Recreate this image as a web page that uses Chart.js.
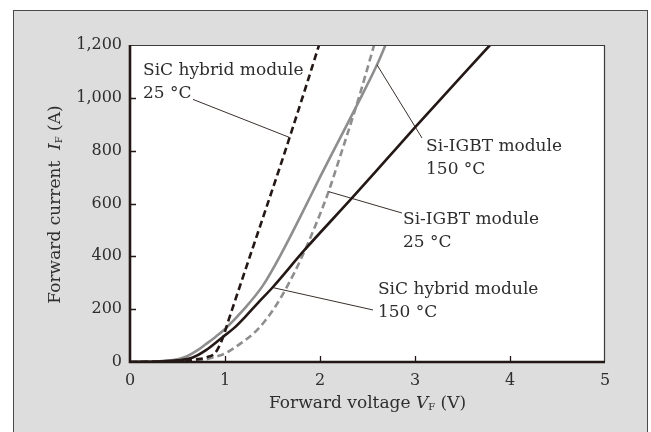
<!DOCTYPE html>
<html>
<head>
<meta charset="utf-8">
<script src="https://cdn.jsdelivr.net/npm/chart.js@4.4.1/dist/chart.umd.min.js"></script>
<style>
  html, body { margin: 0; padding: 0; background: #fff; }
  #wrap { position: relative; width: 651px; height: 432px; overflow: hidden; }
  #panel { position: absolute; left: 13px; top: 10px; width: 633px; height: 440px;
           background: #dcdddc; border: 1px solid #4a4a4a; }
  canvas { position: absolute; left: 0; top: 0; }
</style>
</head>
<body>
<div id="wrap">
  <div id="panel"></div>
  <canvas id="chart" width="651" height="432"></canvas>
</div>
<script>
// tick values
const voltTicks = [0, 1, 2, 3, 4, 5];
const currentTicks = [0, 200, 400, 600, 800, 1000, 1200];

// SiC hybrid module, 25 °C (black dashed)
const sic25V = [0, 0.3, 0.5, 0.7, 0.8, 0.9, 0.97, 1.04, 1.18, 1.4, 1.58, 1.68, 1.85, 1.99];
const sic25I = [0, 1, 4, 10, 17, 36, 85, 161, 312, 547, 740, 850, 1040, 1200];

// SiC hybrid module, 150 °C (black solid)
const sic150V = [0, 0.3, 0.5, 0.66, 0.8, 0.97, 1.1, 1.21, 1.35, 1.5, 1.84, 2.34, 2.7, 3.0, 3.79];
const sic150I = [0, 2, 6, 17, 45, 93, 130, 170, 225, 282, 425, 622, 767, 888, 1200];

// Si-IGBT module, 25 °C (gray dashed)
const igbt25V = [0, 0.55, 0.7, 0.8, 0.9, 1.0, 1.14, 1.3, 1.42, 1.53, 1.66, 1.8, 1.95, 2.09, 2.2, 2.4, 2.57];
const igbt25I = [0, 0, 3, 10, 20, 32, 64, 108, 155, 210, 290, 390, 515, 645, 765, 990, 1200];

// Si-IGBT module, 150 °C (gray solid)
const igbt150V = [0, 0.3, 0.5, 0.6, 0.7, 0.8, 0.9, 1.0, 1.2, 1.4, 1.6, 1.8, 2.0, 2.2, 2.4, 2.6, 2.69];
const igbt150I = [0, 3, 10, 22, 42, 68, 95, 125, 200, 290, 415, 555, 700, 840, 980, 1125, 1200];

const serif = '"DejaVu Serif", "Liberation Serif", serif';
const inkBlack = '#231815';
const inkGray = '#8e8e8e';
const textColor = '#2e2e2e';

// callout labels: text anchor, leader start, leader end (all in V / A)
const callouts = [
  { lines: ['SiC hybrid module', '25 °C'],   textAt: [0.137, 1105], from: [0.663, 994], to: [1.68, 850] },
  { lines: ['Si-IGBT module', '150 °C'],     textAt: [3.116, 814],  from: [3.074, 848], to: [2.60, 1125] },
  { lines: ['Si-IGBT module', '25 °C'],      textAt: [2.874, 538],  from: [2.863, 564], to: [2.09, 645] },
  { lines: ['SiC hybrid module', '150 °C'],  textAt: [2.61, 276],   from: [2.558, 197], to: [1.50, 282] }
];

const pairs = (xs, ys) => xs.map((v, i) => ({ x: v, y: ys[i] }));

function drawRich(ctx, parts, cx, cy) {
  let total = 0;
  parts.forEach(p => { ctx.font = p.font; total += ctx.measureText(p.t).width; });
  let x = cx - total / 2;
  parts.forEach(p => {
    ctx.font = p.font;
    ctx.fillText(p.t, x, cy + (p.dy || 0));
    x += ctx.measureText(p.t).width;
  });
}

const framePlugin = {
  id: 'frame',
  beforeDraw(chart) {
    const { ctx, chartArea: a } = chart;
    ctx.save();
    ctx.fillStyle = '#fff';
    ctx.fillRect(a.left, a.top, a.right - a.left, a.bottom - a.top);
    ctx.restore();
  },
  afterDraw(chart) {
    const { ctx, chartArea: a, scales: { x, y } } = chart;
    ctx.save();

    // thin top/right frame
    ctx.strokeStyle = '#3a3a3a';
    ctx.lineWidth = 1.2;
    ctx.beginPath();
    ctx.moveTo(a.left, a.top + 0.5);
    ctx.lineTo(a.right - 0.5, a.top + 0.5);
    ctx.lineTo(a.right - 0.5, a.bottom);
    ctx.stroke();

    // heavy axes
    ctx.strokeStyle = inkBlack;
    ctx.lineWidth = 2.6;
    ctx.beginPath();
    ctx.moveTo(a.left, a.top);
    ctx.lineTo(a.left, a.bottom);
    ctx.lineTo(a.right, a.bottom);
    ctx.stroke();

    // inward ticks
    ctx.lineWidth = 1.3;
    ctx.beginPath();
    voltTicks.slice(1, -1).forEach(v => {
      const px = Math.round(x.getPixelForValue(v)) + 0.5;
      ctx.moveTo(px, a.bottom);
      ctx.lineTo(px, a.bottom - 6);
    });
    currentTicks.slice(1, -1).forEach(v => {
      const py = Math.round(y.getPixelForValue(v)) + 0.5;
      ctx.moveTo(a.left, py);
      ctx.lineTo(a.left + 6, py);
    });
    ctx.stroke();

    // callouts
    ctx.fillStyle = textColor;
    ctx.textBaseline = 'middle';
    ctx.textAlign = 'left';
    ctx.font = '17px ' + serif;
    callouts.forEach(c => {
      const tx = x.getPixelForValue(c.textAt[0]);
      const ty = y.getPixelForValue(c.textAt[1]);
      c.lines.forEach((s, i) => ctx.fillText(s, tx, ty + i * 23));
      ctx.strokeStyle = inkBlack;
      ctx.lineWidth = 0.9;
      ctx.beginPath();
      ctx.moveTo(x.getPixelForValue(c.from[0]), y.getPixelForValue(c.from[1]));
      ctx.lineTo(x.getPixelForValue(c.to[0]), y.getPixelForValue(c.to[1]));
      ctx.stroke();
    });

    // axis titles
    const reg = '17px ' + serif;
    const ital = 'italic 17px ' + serif;
    const sub = '10px ' + serif;
    drawRich(ctx, [
      { t: 'Forward voltage ', font: reg },
      { t: 'V', font: ital },
      { t: 'F', font: sub, dy: 3 },
      { t: ' (V)', font: reg }
    ], (a.left + a.right) / 2, 404);

    ctx.translate(56, (a.top + a.bottom) / 2 + 1);
    ctx.rotate(-Math.PI / 2);
    drawRich(ctx, [
      { t: 'Forward current  ', font: reg },
      { t: 'I', font: ital },
      { t: 'F', font: sub, dy: 3 },
      { t: ' (A)', font: reg }
    ], 0, 0);

    ctx.restore();
  }
};

const lineStyle = (color, dash, order) => ({
  borderColor: color,
  borderWidth: 2.6,
  borderDash: dash,
  showLine: true,
  pointRadius: 0,
  fill: false,
  cubicInterpolationMode: 'monotone',
  order: order
});

new Chart(document.getElementById('chart').getContext('2d'), {
  type: 'scatter',
  data: {
    datasets: [
      { label: 'Si-IGBT module 25 °C', data: pairs(igbt25V, igbt25I), ...lineStyle(inkGray, [7, 4], 4) },
      { label: 'Si-IGBT module 150 °C', data: pairs(igbt150V, igbt150I), ...lineStyle(inkGray, [], 3) },
      { label: 'SiC hybrid module 25 °C', data: pairs(sic25V, sic25I), ...lineStyle(inkBlack, [7, 4], 2) },
      { label: 'SiC hybrid module 150 °C', data: pairs(sic150V, sic150I), ...lineStyle(inkBlack, [], 1) }
    ]
  },
  options: {
    responsive: false,
    animation: false,
    layout: { padding: { left: 0, right: 46, top: 45, bottom: 0 } },
    plugins: { legend: { display: false }, tooltip: { enabled: false } },
    scales: {
      x: {
        type: 'linear', min: 0, max: 5,
        afterBuildTicks: s => { s.ticks = voltTicks.map(v => ({ value: v })); },
        afterFit: s => { s.height = 70; },
        grid: { display: false, drawTicks: false },
        border: { display: false },
        ticks: { color: textColor, font: { family: serif, size: 16 }, padding: 9 }
      },
      y: {
        type: 'linear', min: 0, max: 1200,
        afterBuildTicks: s => { s.ticks = currentTicks.map(v => ({ value: v })); },
        afterFit: s => { s.width = 130; },
        grid: { display: false, drawTicks: false },
        border: { display: false },
        ticks: {
          color: textColor, font: { family: serif, size: 16 }, padding: 8,
          callback: v => v.toLocaleString('en-US')
        }
      }
    }
  },
  plugins: [framePlugin]
});
</script>
</body>
</html>
